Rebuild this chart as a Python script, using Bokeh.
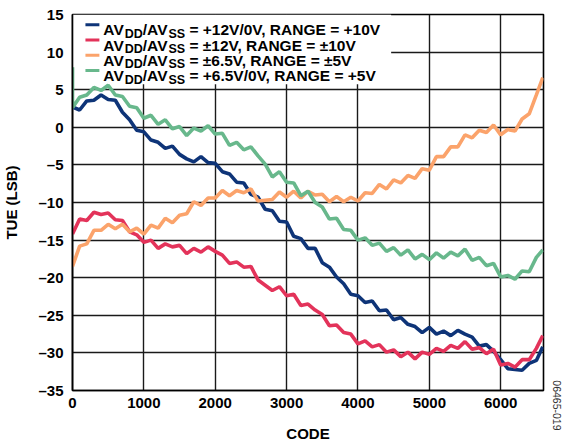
from bokeh.plotting import figure
from bokeh.models import Range1d, FixedTicker, Label, Title
from bokeh.embed import file_html
from bokeh.resources import INLINE

# ---------------- data ----------------
codes = list(range(0, 6600, 100)) + [6590]

blue_12v_0v = [2.7, 2.3, 3.5, 3.6, 4.3, 3.7, 3.6, 2.0, 1.0, -0.4,
               -0.6, -1.7, -2.0, -2.8, -2.5, -3.6, -4.2, -4.6, -3.9, -4.7,
               -4.8, -5.9, -6.2, -7.3, -7.4, -8.9, -9.3, -10.9, -11.1, -12.5,
               -12.6, -14.5, -14.8, -16.1, -16.1, -18.0, -18.6, -19.9, -20.8, -22.2,
               -22.4, -23.3, -23.1, -24.4, -24.3, -25.6, -25.3, -26.2, -26.5, -27.3,
               -26.6, -27.5, -27.1, -27.7, -27.0, -27.5, -27.9, -29.1, -28.9, -29.8,
               -30.9, -32.1, -32.2, -32.3, -31.4, -31.0, -29.2]

red_pm12v = [-14.2, -12.2, -12.4, -11.3, -11.6, -11.4, -12.3, -12.4, -13.9, -14.3,
             -15.3, -15.0, -16.1, -15.5, -15.9, -15.7, -16.8, -16.1, -16.6, -15.9,
             -16.5, -17.0, -18.1, -17.9, -18.6, -18.5, -20.3, -21.0, -21.7, -21.2,
             -22.4, -22.2, -23.7, -23.5, -24.3, -24.9, -26.4, -26.3, -27.3, -27.5,
             -28.8, -28.4, -29.2, -28.9, -29.9, -29.6, -30.5, -29.9, -30.8, -29.9,
             -30.2, -29.4, -29.8, -29.0, -29.4, -28.5, -29.5, -29.3, -30.1, -29.5,
             -31.6, -31.4, -31.9, -30.9, -30.9, -29.4, -27.7]

orange_pm6v5 = [-18.5, -15.8, -15.5, -13.7, -13.7, -12.9, -13.5, -12.9, -13.9, -13.4,
                -14.2, -13.0, -13.4, -12.1, -12.7, -11.7, -11.5, -9.9, -10.4, -9.4,
                -9.4, -8.4, -9.1, -8.4, -8.7, -8.2, -9.8, -9.7, -9.6, -8.6,
                -9.3, -8.5, -9.4, -8.5, -9.0, -8.9, -9.9, -9.2, -9.9, -9.3,
                -9.8, -8.7, -8.8, -7.6, -8.2, -7.0, -7.4, -6.4, -6.8, -5.5,
                -5.7, -3.9, -3.9, -2.6, -2.6, -1.0, -1.4, -0.4, -0.7, 0.3,
                -1.0, -0.3, -0.5, 1.1, 1.8, 4.3, 6.6]

green_codes = [0] + codes
green_6v5_0v = [8.0,
                2.6, 4.0, 4.3, 5.3, 4.9, 5.6, 4.3, 4.1, 2.8, 2.6,
                1.2, 1.6, 0.4, 1.0, -0.2, 0.1, -1.1, -0.1, -0.5, 0.2,
                -0.9, -0.8, -2.4, -2.0, -3.0, -2.6, -3.8, -4.9, -6.6, -5.9,
                -7.3, -7.4, -9.1, -8.5, -10.0, -10.6, -12.2, -12.1, -13.6, -13.7,
                -15.0, -14.7, -15.7, -15.4, -16.5, -16.0, -17.0, -16.3, -17.5, -16.9,
                -17.6, -16.7, -17.4, -16.6, -17.1, -16.2, -17.7, -17.3, -18.4, -18.1,
                -19.9, -19.7, -20.2, -19.1, -19.2, -17.3, -16.3]

x_ticks = [0, 1000, 2000, 3000, 4000, 5000, 6000]
x_tick_labels = ["0", "1000", "2000", "3000", "4000", "5000", "6000"]
y_ticks = [15, 10, 5, 0, -5, -10, -15, -20, -25, -30, -35]
y_tick_labels = ["15", "10", "5", "0", "\u20135", "\u201310", "\u201315",
                 "\u201320", "\u201325", "\u201330", "\u201335"]

legend_supply = ["+12V/0V", "\u00b112V", "\u00b16.5V", "+6.5V/0V"]
legend_range = ["+10V", "\u00b110V", "\u00b15V", "+5V"]
colors = ["#0e3478", "#e3335a", "#fba36b", "#68b88c"]

# ---------------- figure ----------------
W, H = 574, 444
FL, FR, FT, FB = 70, 31, 14, 52  # borders (canvas px)
FONT = "Liberation Sans"

p = figure(width=W, height=H, x_range=Range1d(0, 6600), y_range=Range1d(-35, 15),
           output_backend="svg", toolbar_location=None,
           min_border_left=FL, min_border_right=FR, min_border_top=FT,
           min_border_bottom=FB)
p.background_fill_color = "white"
p.border_fill_color = "white"
p.outline_line_color = "black"
p.outline_line_width = 1.6

fw = W - FL - FR
fh = H - FT - FB


def dx(px):
    # picture px -> data x
    return (px - FL) * 6600.0 / fw


def dy(py):
    return 15.0 - (py - FT) * 50.0 / fh


for ax in (p.xaxis, p.yaxis):
    ax.axis_line_color = "black"
    ax.axis_line_width = 1.6
    ax.major_tick_out = 0
    ax.major_tick_in = 0
    ax.minor_tick_out = 0
    ax.minor_tick_in = 0
    ax.major_label_text_font = FONT
    ax.major_label_text_font_style = "bold"
    ax.major_label_text_font_size = "15px"
    ax.major_label_text_color = "black"
    ax.axis_label_text_font = FONT
    ax.axis_label_text_font_style = "bold"
    ax.axis_label_text_font_size = "15px"
    ax.axis_label_text_color = "black"

p.xaxis.ticker = FixedTicker(ticks=x_ticks)
p.xaxis.major_label_overrides = {t: l for t, l in zip(x_ticks, x_tick_labels)}
p.yaxis.ticker = FixedTicker(ticks=y_ticks)
p.yaxis.major_label_overrides = {t: l for t, l in zip(y_ticks, y_tick_labels)}
p.xaxis.axis_label = "CODE"
p.yaxis.axis_label = "TUE (LSB)"
p.xaxis.major_label_standoff = 7
p.xaxis.axis_label_standoff = 14
p.yaxis.major_label_standoff = 9
p.yaxis.axis_label_standoff = 15

p.xgrid.grid_line_color = "#1a1a1a"
p.ygrid.grid_line_color = "#1a1a1a"
p.xgrid.grid_line_width = 1.4
p.ygrid.grid_line_width = 1.4

# legend background (covers grid)
p.quad(left=dx(70), right=dx(390), top=15, bottom=dy(84),
       fill_color="white", line_color=None)

# series
p.line(codes, blue_12v_0v, line_color=colors[0], line_width=3.6)
p.line(codes, red_pm12v, line_color=colors[1], line_width=3.6)
p.line(codes, orange_pm6v5, line_color=colors[2], line_width=3.6)
p.line(green_codes, green_6v5_0v, line_color=colors[3], line_width=3.6)

# ---------------- legend (manual, with subscripts) ----------------
CW = {'A': 722, 'V': 667, 'D': 722, 'S': 667, '/': 278, ' ': 278, '=': 584,
      '+': 584, '\u00b1': 584, ',': 278, 'R': 722, 'N': 722, 'G': 778,
      'E': 667, '.': 278}


def tw(s, size):
    return sum(CW.get(c, 556) for c in s) / 1000.0 * size


MAIN, SUB = 15.5, 12.5
for i in range(4):
    base = 29.5 + 15.3 * i
    yc = base - 5.2
    p.line([dx(83), dx(97)], [dy(yc), dy(yc)], line_color=colors[i], line_width=3)
    pieces = [("AV", MAIN, 0), ("DD", SUB, 4), ("/AV", MAIN, 0), ("SS", SUB, 4),
              (" = " + legend_supply[i] + ", RANGE = " + legend_range[i], MAIN, 0)]
    x = 101.0
    for txt, size, off in pieces:
        lead = len(txt) - len(txt.lstrip(" "))
        xs = x + tw(" " * lead, size)
        p.add_layout(Label(x=dx(xs), y=dy(base + off), text=txt.lstrip(" "),
                           text_font=FONT, text_font_style="bold",
                           text_font_size=f"{size}px", text_color="black",
                           text_align="left", text_baseline="alphabetic"))
        x += tw(txt, size)

# figure number (vertical, right margin)
p.add_layout(Title(text="06465-019", align="right", text_font=FONT,
                   text_font_size="10.5px", text_font_style="normal",
                   text_color="#333333", standoff=18, offset=-40), "right")

open("out.html", "w").write(file_html(p, INLINE))
